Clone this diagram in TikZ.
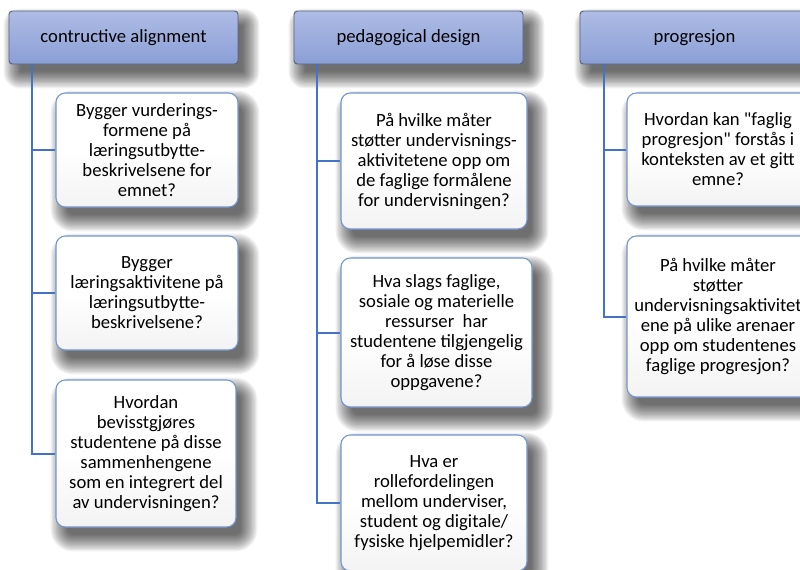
\documentclass[tikz,border=0pt]{standalone}
\usepackage{fontspec}
\setmainfont{Carlito}
\usetikzlibrary{calc,backgrounds}
\definecolor{linec}{HTML}{4472C4}
\definecolor{hdrtop}{HTML}{AEBCE5}
\definecolor{hdrbot}{HTML}{8B9FD6}
\definecolor{hdrb}{HTML}{56627E}
\definecolor{boxb}{HTML}{7395D2}
\definecolor{boxbot}{HTML}{F3F3F3}
\newcommand\dq{\XeTeXglyph\XeTeXcharglyph"22\relax}
\newcommand\softshadow[2]{% node, corner radius
  \foreach \i in {0,...,13}{%
    \pgfmathsetmacro\s{-4+\i*1.3}%
    \fill[black,opacity=0.055,rounded corners=#2+\s*0.75pt]
      ($(#1.north west)+(8-\s,11-\s)$) rectangle ($(#1.south east)+(8+\s,11+\s)$);
  }}
\begin{document}
\begin{tikzpicture}[x=0.75pt,y=-0.75pt,
  hdr/.style={draw=hdrb,line width=0.7pt,rounded corners=2.5pt,top color=hdrtop,bottom color=hdrbot,
    minimum height=39.75pt,minimum width=171.75pt,inner sep=0pt,font=\fontsize{14}{15}\selectfont},
  qbox/.style={draw=boxb,line width=0.8pt,rounded corners=7pt,top color=white,bottom color=boxbot,
    middle color=white,align=center,inner sep=0pt,font=\fontsize{14}{15}\selectfont},
  conn/.style={draw=linec,line width=1.5pt}]
\useasboundingbox (0,0) rectangle (800,569);
% headers
\node[hdr] (h1) at (123.5,37.5) {contructive alignment};
\node[hdr] (h2) at (408.5,37.5) {pedagogical design};
\node[hdr] (h3) at (694.5,37.5) {progresjon};
% column 1
\node[qbox,minimum width=136.5pt,minimum height=85.5pt] (b11) at (147,150)
  {Bygger vurderings-\\formene på\\læringsutbytte-\\beskrivelsene for\\emnet?};
\node[qbox,minimum width=136.5pt,minimum height=85.5pt] (b12) at (147,293)
  {Bygger\\læringsaktivitene på\\læringsutbytte-\\beskrivelsene?};
\node[qbox,minimum width=135pt,minimum height=110.25pt] (b13) at (146,453.5)
  {Hvordan\\bevisstgjøres\\studentene på disse\\sammenhengene\\som en integrert del\\av undervisningen?};
% column 2
\node[qbox,minimum width=139.5pt,minimum height=102pt] (b21) at (434,161)
  {På hvilke måter\\støtter undervisnings-\\aktivitetene opp om\\de faglige formålene\\for undervisningen?};
\node[qbox,minimum width=143.25pt,minimum height=111.75pt] (b22) at (436.5,332.5)
  {Hva slags faglige,\\sosiale og materielle\\ressurser\ \ har\\studentene tilgjengelig\\for å løse disse\\oppgavene?};
\node[qbox,minimum width=139.5pt,minimum height=102pt] (b23) at (434,503)
  {Hva er\\rollefordelingen\\mellom underviser,\\student og digitale/\\fysiske hjelpemidler?};
% column 3
\node[qbox,minimum width=136.5pt,minimum height=84.75pt] (b31) at (718,149.5)
  {Hvordan kan \dq faglig\\progresjon\dq\ forstås i\\konteksten av et gitt\\emne?};
\node[qbox,minimum width=136.5pt,minimum height=120.75pt] (b32) at (718,316.5)
  {På hvilke måter\\støtter\\undervisningsaktivitet\\ene på ulike arenaer\\opp om studentenes\\faglige progresjon?};
% shadows
\begin{scope}[on background layer]
  \fill[white] (0,0) rectangle (800,569);
  \softshadow{h1}{2.5pt}\softshadow{h2}{2.5pt}\softshadow{h3}{2.5pt}
  \softshadow{b11}{7pt}\softshadow{b12}{7pt}\softshadow{b13}{7pt}
  \softshadow{b21}{7pt}\softshadow{b22}{7pt}\softshadow{b23}{7pt}
  \softshadow{b31}{7pt}\softshadow{b32}{7pt}
\end{scope}
% connectors
\draw[conn] ($(h1.south west)+(23,0)$) |- (b11.west);
\draw[conn] ($(h1.south west)+(23,0)$) |- (b12.west);
\draw[conn] ($(h1.south west)+(23,0)$) |- (b13.west);
\draw[conn] ($(h2.south west)+(23,0)$) |- (b21.west);
\draw[conn] ($(h2.south west)+(23,0)$) |- (b22.west);
\draw[conn] ($(h2.south west)+(23,0)$) |- (b23.west);
\draw[conn] ($(h3.south west)+(24,0)$) |- (b31.west);
\draw[conn] ($(h3.south west)+(24,0)$) |- (b32.west);
\end{tikzpicture}
\end{document}
